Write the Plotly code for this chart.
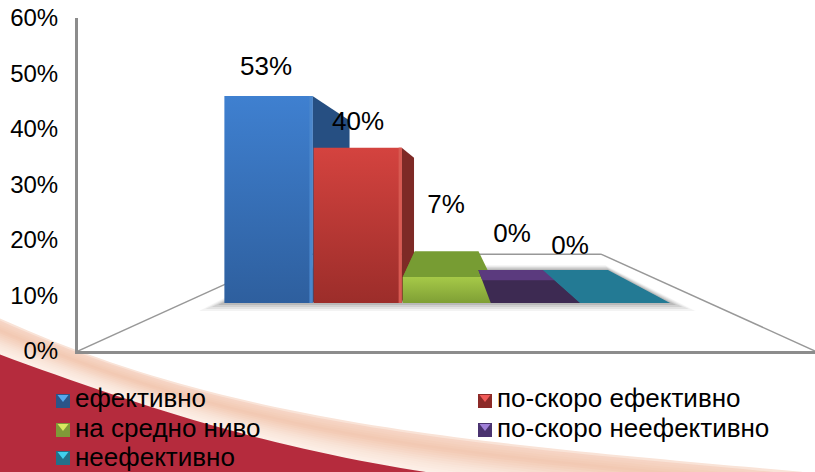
import numpy as np
import plotly.graph_objects as go

# ---- data ----
categories = ["ефективно", "по-скоро ефективно", "на средно ниво", "по-скоро неефективно", "неефективно"]
values = [53.3, 40.0, 6.7, 0.0, 0.0]
y_ticks = [0, 10, 20, 30, 40, 50, 60]
y_tick_labels = ["0%", "10%", "20%", "30%", "40%", "50%", "60%"]

front_top = ["#3f80d0", "#d4433f", "#a6c948", "#3d2a52", "#237a94"]
front_bot = ["#2e5f9e", "#9c2d2a", "#7f9f35", "#3d2a52", "#237a94"]
side_col = ["#264f82", "#7e2a26", "#6f8f30", "#5b3a7e", "#237a94"]
top_col = ["#4a86cc", "#d85a52", "#779c33", "#3d2a52", "#237a94"]
swatch_dark = ["#2b5488", "#8c2a28", "#7f9a38", "#4a3370", "#23708a"]
swatch_light = ["#55a8ee", "#f05a58", "#d8e860", "#a080d8", "#40d0ee"]

W, H = 815, 472
# pseudo-3D projection: units are categories (x) and percent (y)
VX, VY = 2.488, 30.09      # vanishing point
S_FRONT, S_BACK, S_WALL = 0.7126, 0.515, 0.42
K = 0.982


def proj(i, v, s):
    return VX + (i - VX) * s, VY + (v * K - VY) * s


def poly(pts, color=None, grad=None, opacity=1.0):
    xs = [p[0] for p in pts] + [pts[0][0]]
    ys = [p[1] for p in pts] + [pts[0][1]]
    kw = dict(x=xs, y=ys, mode="lines", line=dict(width=0), fill="toself",
              hoverinfo="skip", showlegend=False, opacity=opacity)
    if grad:
        kw["fillgradient"] = dict(type="vertical", colorscale=[[0, grad[1]], [1, grad[0]]])
        kw["fillcolor"] = None
    else:
        kw["fillcolor"] = color
    return go.Scatter(**kw)


traces = []

# floor outline
for a, b in [((-0.451, 0, 1), (-0.451, 0, S_WALL)), ((5.435, 0, 1), (5.435, 0, S_WALL)),
             ((-0.451, 0, S_WALL), (5.435, 0, S_WALL))]:
    p, q = proj(*a), proj(*b)
    traces.append(go.Scatter(x=[p[0], q[0]], y=[p[1], q[1]], mode="lines", hoverinfo="skip", showlegend=False,
                             line=dict(color="#989898", width=1.5)))

# soft floor shadow
n = len(values)
for grow, op in [(0.16, 0.07), (0.12, 0.10), (0.08, 0.14), (0.04, 0.20)]:
    gx = grow * 0.65
    pts = [proj(-gx, 0, S_FRONT + grow * 0.3), proj(n + gx, 0, S_FRONT + grow * 0.3),
           proj(n + gx, 0, S_BACK - grow * 0.18), proj(-gx, 0, S_BACK - grow * 0.18)]
    traces.append(poly(pts, color="#606060", opacity=op))

# bars painted back to front
for i, v in enumerate(values):
    x0, x1 = i + 0.004, i + 0.992
    if v > 0:
        if i < VX - 1:  # side face visible on the right
            traces.append(poly([proj(x1, 0, S_FRONT), proj(x1, v, S_FRONT), proj(x1, v, S_BACK), proj(x1, 0, S_BACK)],
                               color=side_col[i]))
        if i == 2:
            traces.append(poly([proj(x0, 0, S_FRONT), proj(x0, v, S_FRONT), proj(x0, v, S_BACK), proj(x0, 0, S_BACK)],
                               color=side_col[i]))
            traces.append(poly([proj(x0, v, S_FRONT), proj(x1, v, S_FRONT), proj(x1, v, S_BACK), proj(x0, v, S_BACK)],
                               color=top_col[i]))
        traces.append(poly([proj(x0, 0, S_FRONT), proj(x1, 0, S_FRONT), proj(x1, v, S_FRONT), proj(x0, v, S_FRONT)],
                           grad=(front_top[i], front_bot[i])))
        if v > 10:  # light bevel on the right edge of the front face
            traces.append(poly([proj(x1 - 0.035, 0, S_FRONT), proj(x1, 0, S_FRONT), proj(x1, v, S_FRONT),
                                proj(x1 - 0.035, v, S_FRONT)], color=top_col[i]))
    else:
        x0z, x1z = i - 0.01, i + 1.0
        traces.append(poly([proj(x0z, 0, S_FRONT), proj(x1z, 0, S_FRONT), proj(x1z, 0, S_BACK), proj(x0z, 0, S_BACK)],
                           color=front_top[i]))
        if i == 3:
            sb = S_BACK + 0.062
            traces.append(poly([proj(x0z, 0, sb), proj(x1z, 0, sb), proj(x1z, 0, S_BACK), proj(x0z, 0, S_BACK)],
                               color=side_col[i]))

# data labels
label_px = [266, 358, 446, 512, 570]
label_py = [68, 123, 206, 235, 247]
traces.append(go.Scatter(
    x=[(p - 134.5) / 125.2 for p in label_px],
    y=[(351 - p) / 5.55 for p in label_py],
    mode="text", text=[f"{v:.0f}%" for v in values], textposition="middle center",
    textfont=dict(family="Liberation Sans", size=26, color="#000000"),
    hoverinfo="skip", showlegend=False, cliponaxis=False))

fig = go.Figure(traces)


# ---- decorative background swoosh ----
def pxp(x, y):
    return f"{x / W:.5f},{1 - y / H:.5f}"


cx = np.array([0, 80, 160, 270, 400, 540, 700, 815, 900])
upper = np.array([317, 347, 378, 405, 424, 447, 460, 470, 478])
rx = np.array([0, 80, 160, 270, 400, 425, 540, 815])
lower = np.array([356, 379, 413, 442, 465, 472, 488, 520])
xs = np.linspace(0, 815, 60)
up = np.polyval(np.polyfit(cx, upper, 4), xs)
lo = np.polyval(np.polyfit(rx, lower, 4), xs)
lo = np.maximum(lo, up + 1)


def area(top, col):
    d = "M " + " L ".join(pxp(x, y) for x, y in zip(xs, top))
    d += f" L {pxp(815, 500)} L {pxp(0, 500)} Z"
    return dict(type="path", path=d, xref="paper", yref="paper", fillcolor=col, line_width=0, layer="below")


def lerp(a, b, t):
    return "#%02x%02x%02x" % tuple(int(round(a[k] + (b[k] - a[k]) * t)) for k in range(3))


shapes = []
stops = [(0.0, (255, 255, 255)), (0.08, (246, 214, 198)), (0.35, (242, 200, 178)), (0.7, (249, 228, 216)), (1.0, (253, 242, 235))]
N = 18
for k in range(N):
    t = k / N
    for (t0, c0), (t1, c1) in zip(stops, stops[1:]):
        if t0 <= t <= t1:
            col = lerp(c0, c1, (t - t0) / (t1 - t0))
            break
    shapes.append(area(up + (lo - up) * t, col))
shapes.append(area(lo, "#b52b3d"))

# ---- legend (two columns) ----
leg_x = [56, 478, 56, 478, 56]
leg_y = [394, 394, 423, 423, 451]
leg_text_y = [397.5, 397.5, 427.5, 427.5, 457.3]
annots = []
for i, c in enumerate(categories):
    x, y = leg_x[i], leg_y[i]
    rect = f"M {pxp(x, y)} L {pxp(x + 14, y)} L {pxp(x + 14, y + 14)} L {pxp(x, y + 14)} Z"
    shapes.append(dict(type="path", path=rect, xref="paper", yref="paper", fillcolor=swatch_dark[i], line_width=0))
    tri = f"M {pxp(x + 1.5, y + 1)} L {pxp(x + 12.5, y + 1)} L {pxp(x + 7, y + 8)} Z"
    shapes.append(dict(type="path", path=tri, xref="paper", yref="paper", fillcolor=swatch_light[i], line_width=0))
    annots.append(dict(text=c, x=(x + 17) / W, y=1 - leg_text_y[i] / H, xref="paper", yref="paper",
                       xanchor="left", yanchor="middle", showarrow=False,
                       font=dict(family="Liberation Sans", size=26, color="#000000")))

fig.update_layout(
    width=W, height=H, margin=dict(l=0, r=0, t=0, b=0, pad=0), autosize=False,
    paper_bgcolor="#ffffff", plot_bgcolor="rgba(0,0,0,0)", showlegend=False, hovermode=False,
    shapes=shapes, annotations=annots,
    xaxis=dict(domain=[78 / W, 1], range=[(78 - 134.5) / 125.2, (815 - 134.5) / 125.2], visible=True,
               showgrid=False, zeroline=False, showticklabels=False, ticks="", automargin=False,
               showline=True, linecolor="#8c8c8c", linewidth=3, anchor="y"),
    yaxis=dict(domain=[(H - 351) / H, (H - 18) / H], range=[0, 60], tickmode="array",
               tickvals=y_ticks, ticktext=y_tick_labels, automargin=False,
               showgrid=False, zeroline=False, ticks="", ticklabelstandoff=12,
               showline=True, linecolor="#8c8c8c", linewidth=3, anchor="x",
               tickfont=dict(family="Liberation Sans", size=24, color="#000000")),
)
fig.write_html("out.html", config={"displayModeBar": False},
               post_script="document.body.style.margin='0';document.documentElement.style.overflow='hidden';Plotly.Plots.resize(document.getElementsByClassName('plotly-graph-div')[0]);")
